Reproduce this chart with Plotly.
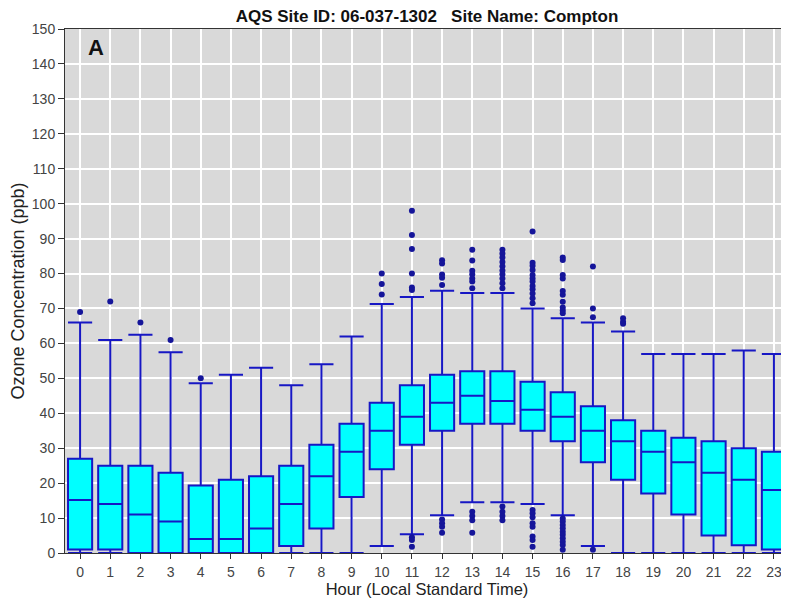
import plotly.graph_objects as go

# ─── Data ────────────────────────────────────────────────────────────────────
HOURS = list(range(24))

Q1 = [1, 1, 0, 0, 0, 0, 0, 2, 7, 16, 24, 31, 35, 37, 37, 35,
      32, 26, 21, 17, 11, 5, 2.2, 1]
MEDIAN = [15.2, 14, 11, 9, 4, 4, 7, 14, 22, 29, 35, 39, 43, 45, 43.5, 41,
          39, 35, 32, 29, 26, 23, 21, 18]
Q3 = [27, 25, 25, 23, 19.3, 21, 22, 25, 31, 37, 43, 48, 51, 52, 52, 49,
      46, 42, 38, 35, 33, 32, 30, 29]
LOWER = [0, 0, 0, 0, 0, 0, 0, 0, 0, 0, 2, 5.4, 10.8, 14.5, 14.5, 14,
         10.8, 2, 0, 0, 0, 0, 0, 0]
UPPER = [66, 61, 62.5, 57.5, 48.6, 51, 53, 48, 54, 62, 71.3, 73.3, 75.1, 74.4, 74.4, 70,
         67.2, 66, 63.4, 57, 57, 57, 58, 57]

OUTLIERS = [
    [69],
    [72],
    [66],
    [61],
    [50],
    [],
    [],
    [],
    [],
    [],
    [80, 77, 74],
    [98, 91, 87, 80, 76, 75.3, 4.5, 3.7, 1.8],
    [83.8, 82.9, 79.7, 78.8, 76.7, 9.6, 8.5, 7.5, 5.8],
    [86.8, 83.7, 80.8, 79.8, 78.6, 77.7, 75.8, 11.8, 10.6, 9.4, 5.8],
    [86.8, 85.7, 84.6, 83.3, 82.1, 80.9, 79.8, 78.6, 77.2, 75.8,
     13.3, 11.8, 10.6, 9.4],
    [92, 83.1, 82.2, 81, 79.6, 78.6, 77.7, 76.4, 75.5, 74.3, 72.9, 71.5,
     12.3, 11.4, 10.2, 8.5, 7.5, 4.7, 3.7, 1.8],
    [84.6, 83.9, 79.6, 78.6, 75, 73.9, 71.9, 70.3, 69.4, 68.6,
     9.9, 9.0, 8.0, 7.1, 6.1, 5.2, 4.2, 3.2, 2.3, 0.9],
    [82, 70, 67.5, 0.9],
    [67.2, 66.2, 65.6],
    [],
    [],
    [],
    [],
    [],
]

Y_TICKS = list(range(0, 151, 10))

TITLE = "AQS Site ID: 06-037-1302   Site Name: Compton"

# ─── Styles ──────────────────────────────────────────────────────────────────
BOX_LINE = "#1717C4"
BOX_FILL = "#00FFFF"
DOT = "#15159A"
FONT = "Liberation Sans, Arial, sans-serif"

out_x = [h for h, pts in zip(HOURS, OUTLIERS) for _ in pts]
out_y = [v for pts in OUTLIERS for v in pts]

fig = go.Figure()
fig.add_trace(go.Box(
    x=HOURS, q1=Q1, median=MEDIAN, q3=Q3,
    lowerfence=LOWER, upperfence=UPPER,
    width=0.8, whiskerwidth=1,
    fillcolor=BOX_FILL,
    line=dict(color=BOX_LINE, width=2),
    boxpoints=False, showlegend=False, hoverinfo="skip",
))
fig.add_trace(go.Scatter(
    x=out_x, y=out_y, mode="markers",
    marker=dict(color=DOT, size=6),
    showlegend=False, hoverinfo="skip",
))

# the page body adds an 8px offset, so the figure is 8px smaller than the window
fig.update_layout(
    width=781, height=591,
    margin=dict(l=57, r=0, t=21, b=46),
    paper_bgcolor="white",
    plot_bgcolor="#D9D9D9",
    font=dict(family=FONT, color="#222222"),
    title=dict(
        text=f"<b>{TITLE}</b>",
        x=0.5365, xanchor="center", y=1, yanchor="top",
        pad=dict(t=2, b=0),
        font=dict(size=17, color="#111111", family=FONT),
    ),
    annotations=[dict(
        text="<b>A</b>", xref="paper", yref="paper",
        x=0.029, y=0.993, xanchor="left", yanchor="top",
        showarrow=False, font=dict(size=22, color="#111111", family=FONT),
    )],
)
fig.update_xaxes(
    range=[-0.5, 23.5],
    tickmode="array", tickvals=HOURS, ticktext=[str(h) for h in HOURS],
    showgrid=True, gridcolor="white", gridwidth=1.5,
    showline=True, linecolor="#333333", linewidth=1, mirror=True,
    ticks="outside", ticklen=5, tickcolor="#333333",
    ticklabelstandoff=1,
    tickfont=dict(size=14, color="#444444"),
    title=dict(text="Hour (Local Standard Time)", standoff=1,
               font=dict(size=16.5, color="#222222")),
    zeroline=False,
)
fig.update_yaxes(
    range=[0, 150],
    tickmode="array", tickvals=Y_TICKS,
    showgrid=True, gridcolor="white", gridwidth=1.5,
    showline=True, linecolor="#333333", linewidth=1, mirror=True,
    ticks="outside", ticklen=6, tickcolor="#333333",
    tickfont=dict(size=14, color="#444444"),
    title=dict(text="Ozone Concentration (ppb)", standoff=2,
               font=dict(size=18, color="#222222")),
    zeroline=False,
)

fig.write_html("out.html")
